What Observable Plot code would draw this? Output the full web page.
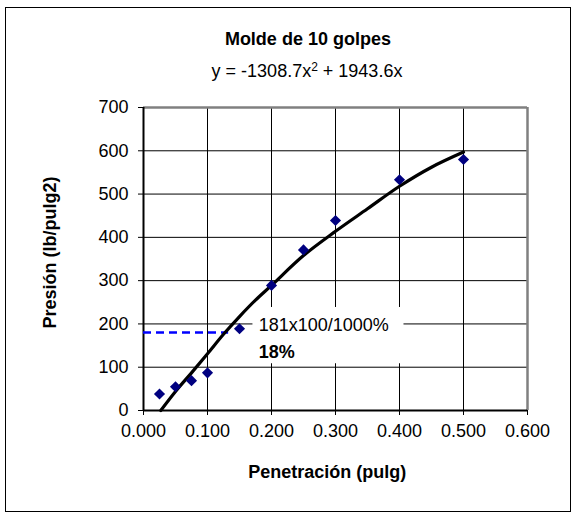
<!DOCTYPE html>
<html>
<head>
<meta charset="utf-8">
<script src="https://cdn.jsdelivr.net/npm/d3@7"></script>
<script src="https://cdn.jsdelivr.net/npm/@observablehq/plot@0.6"></script>
<style>
  html, body { margin: 0; padding: 0; background: #fff; }
  #wrap { position: relative; width: 576px; height: 518px; }
  #border { position: absolute; left: 5px; top: 7px; width: 566px; height: 505px; border: 1px solid #000; box-sizing: border-box; pointer-events: none; }
</style>
</head>
<body>
<div id="wrap"><div id="border"></div></div>
<script>
// Measured data (Penetración in pulg, Presión in lb/pulg2)
const penetracion = [0.025, 0.05, 0.075, 0.1, 0.15, 0.2, 0.25, 0.3, 0.4, 0.5];
const presion     = [38, 55, 69, 87, 189, 289, 371, 439, 533, 580];

// Corrected curve (drawn line)
const curvaX = [0.027, 0.05, 0.075, 0.1, 0.125, 0.15, 0.175, 0.2, 0.25, 0.3, 0.35, 0.4, 0.45, 0.5];
const curvaY = [0, 44, 87, 131, 176, 217, 255, 289, 358, 414, 466, 518, 562, 597];

// Dashed reading at 0.1"
const lecturaY = [180];
const lecturaX2 = [0.133];

// Annotation
const notaLinea1 = "181x100/1000%";
const notaLinea2 = "18%";
const notaX = [0.18];
const notaY1 = [196];
const notaY2 = [135];
const cajaX = [0.171, 0.407];
const cajaY = [108, 238];

// Texts
const titulo = "Molde de 10 golpes";
const ecuacionPartes = ["y = -1308.7x", "2", " + 1943.6x"];
const etiquetaX = "Penetración (pulg)";
const etiquetaY = "Presión (lb/pulg2)";

// Ticks
const xTicks = [0, 0.1, 0.2, 0.3, 0.4, 0.5, 0.6];
const yTicks = [0, 100, 200, 300, 400, 500, 600, 700];
const xDomain = [0, 0.6];
const yDomain = [0, 700];

const puntos = penetracion.map((x, i) => ({x, y: presion[i]}));
const curva = curvaX.map((x, i) => ({x, y: curvaY[i]}));
const lectura = lecturaY.map((y, i) => ({y, x1: 0, x2: lecturaX2[i]}));
const caja = [{x1: cajaX[0], x2: cajaX[1], y1: cajaY[0], y2: cajaY[1]}];

const font = "'Liberation Sans', Arial, sans-serif";

const chart = Plot.plot({
  width: 576,
  height: 518,
  marginLeft: 143,
  marginRight: 49,
  marginTop: 107,
  marginBottom: 108,
  style: {fontFamily: font, fontSize: "18px", background: "transparent", color: "#000"},
  x: {domain: xDomain, label: null},
  y: {domain: yDomain, label: null},
  marks: [
    Plot.gridX({ticks: xTicks, stroke: "#000", strokeOpacity: 1, strokeWidth: 1}),
    Plot.gridY({ticks: yTicks, stroke: "#000", strokeOpacity: 1, strokeWidth: 1}),
    Plot.ruleY([yDomain[1]], {stroke: "#808080", strokeWidth: 2.5}),
    Plot.ruleX([xDomain[1]], {stroke: "#808080", strokeWidth: 2.5}),
    Plot.ruleX([xDomain[0]], {stroke: "#000", strokeWidth: 2}),
    Plot.ruleY([yDomain[0]], {stroke: "#000", strokeWidth: 2}),
    Plot.axisX({ticks: xTicks, tickFormat: d3.format(".3f"), tickSize: 5, tickPadding: 9, label: null, fontSize: 18, stroke: "#000"}),
    Plot.axisY({ticks: yTicks, tickSize: 5, tickPadding: 10, label: null, fontSize: 18, stroke: "#000"}),
    Plot.rect(caja, {x1: "x1", x2: "x2", y1: "y1", y2: "y2", fill: "#fff"}),
    Plot.ruleY(lectura, {y: "y", x1: "x1", x2: "x2", stroke: "#0000FF", strokeWidth: 2.5, strokeDasharray: "8,5"}),
    Plot.line(curva, {x: "x", y: "y", stroke: "#000", strokeWidth: 3.2, curve: "catmull-rom"}),
    Plot.dot(puntos, {x: "x", y: "y", symbol: "diamond2", r: 5, fill: "#000080", stroke: "none"}),
    Plot.text([notaLinea1], {x: notaX, y: notaY1, text: d => d, textAnchor: "start", fontSize: 18, fill: "#000"}),
    Plot.text([notaLinea2], {x: notaX, y: notaY2, text: d => d, textAnchor: "start", fontSize: 18, fontWeight: "bold", fill: "#000"}),
    Plot.text([titulo], {text: d => d, frameAnchor: "top-left", dx: 164.4, dy: -68, textAnchor: "middle", lineAnchor: "middle", fontSize: 18, fontWeight: "bold", fill: "#000"}),
    Plot.text([ecuacionPartes.join("")], {text: d => d, frameAnchor: "top-left", dx: 163.5, dy: -36, textAnchor: "middle", lineAnchor: "middle", fontSize: 18, fill: "#000", className: "ecuacion"}),
    Plot.text([etiquetaX], {text: d => d, frameAnchor: "bottom-left", dx: 183.7, dy: 62, textAnchor: "middle", lineAnchor: "middle", fontSize: 18, fontWeight: "bold", fill: "#000"}),
    Plot.text([etiquetaY], {text: d => d, frameAnchor: "left", dx: -93.7, dy: -6.5, rotate: -90, textAnchor: "middle", lineAnchor: "middle", fontSize: 18, fontWeight: "bold", fill: "#000"})
  ]
});

// Superscript the exponent in the equation text
d3.select(chart).selectAll(".ecuacion text").each(function() {
  const t = d3.select(this);
  t.text(null);
  t.append("tspan").text(ecuacionPartes[0]);
  t.append("tspan").attr("dy", "-6").attr("font-size", "12px").text(ecuacionPartes[1]);
  t.append("tspan").attr("dy", "6").text(ecuacionPartes[2]);
});

document.getElementById("wrap").prepend(chart);
</script>
</body>
</html>
